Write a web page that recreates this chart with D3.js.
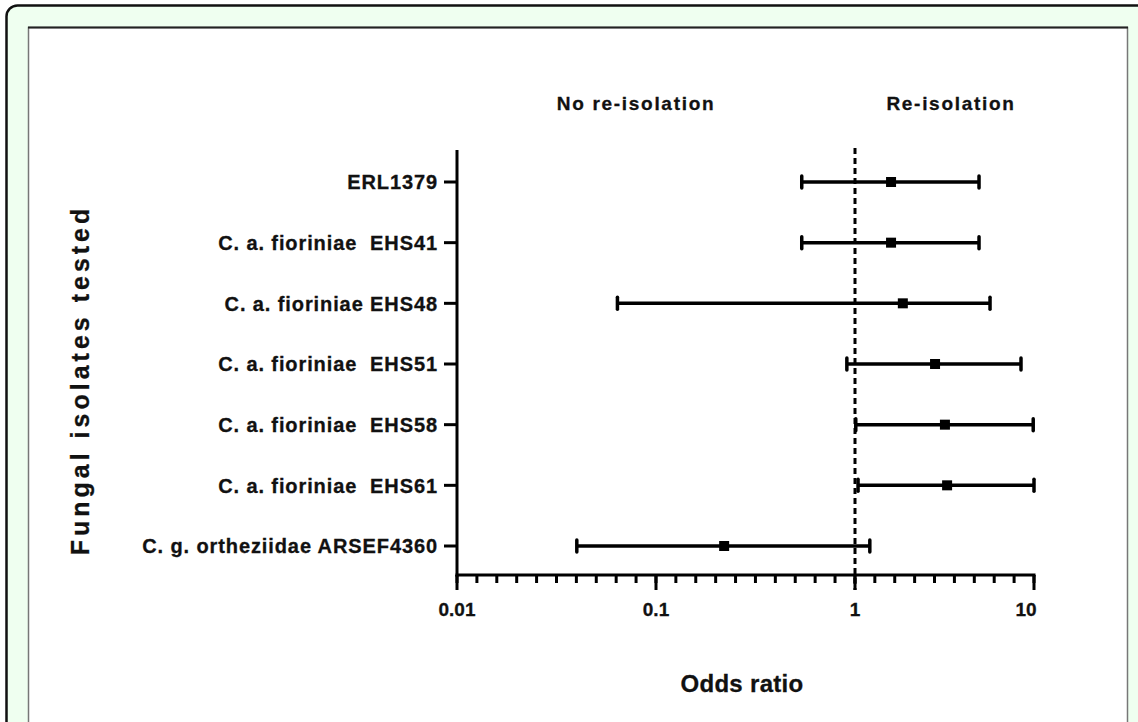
<!DOCTYPE html>
<html>
<head>
<meta charset="utf-8">
<script src="https://cdn.jsdelivr.net/npm/d3@7"></script>
<style>
  body { margin: 0; background: #fff; }
  svg text { font-family: "Liberation Sans", Arial, sans-serif; font-weight: bold; fill: #111; white-space: pre;
             stroke: #111; stroke-width: 0.3px; }
</style>
</head>
<body>
<div id="wrapper"></div>
<script>
// data
const isolates = [
  "ERL1379",
  "C. a. fioriniae  EHS41",
  "C. a. fioriniae EHS48",
  "C. a. fioriniae  EHS51",
  "C. a. fioriniae  EHS58",
  "C. a. fioriniae  EHS61",
  "C. g. ortheziidae ARSEF4360"
]
const oddsRatio = [1.59, 1.59, 1.85, 2.80, 3.18, 3.27, 0.22]
const ciLow     = [0.54, 0.54, 0.064, 0.91, 1.01, 1.04, 0.040]
const ciHigh    = [4.93, 4.93, 5.68, 8.46, 9.9, 10, 1.21]
const majorTicks = [0.01, 0.1, 1, 10]
const tickLabels = ["0.01", "0.1", "1", "10"]

const dataset = isolates.map((name, i) => ({
  name, or: oddsRatio[i], lo: ciLow[i], hi: ciHigh[i]
}))

const width = 1138
const height = 722

const svg = d3.select("#wrapper")
  .append("svg")
    .attr("width", width)
    .attr("height", height)

// frame
svg.append("rect")
  .attr("x", 6.5).attr("y", 5.5)
  .attr("width", 1160).attr("height", 760)
  .attr("rx", 11)
  .attr("fill", "#effff0")
  .attr("stroke", "#111")
  .attr("stroke-width", 2.5)
svg.append("rect")
  .attr("x", 28.5).attr("y", 27.5)
  .attr("width", 1099).attr("height", 720)
  .attr("fill", "#fff")
  .attr("stroke", "#777")
  .attr("stroke-width", 1.5)
svg.append("line")
  .attr("x1", 28).attr("x2", 1128)
  .attr("y1", 27.5).attr("y2", 27.5)
  .attr("stroke", "#222").attr("stroke-width", 2)

// scales (axis drawn with 10 evenly spaced minor steps per decade, last decade cut at 10)
const x = d3.scaleLog()
  .domain([0.01, 0.1, 1, 10])
  .range([457, 656, 855, 1034])

const y = d3.scalePoint()
  .domain(isolates)
  .range([182, 546])

const axisY = 575
const topY = 150

const bounds = svg.append("g")

// minor ticks: evenly spaced index positions
const minorIdx = d3.range(0, 30)
const idxScale = d3.scaleLinear().domain([0, 29]).range([x(0.01), x(10)])
bounds.append("g").selectAll("line")
  .data(minorIdx)
  .join("line")
    .attr("x1", d => idxScale(d)).attr("x2", d => idxScale(d))
    .attr("y1", axisY).attr("y2", axisY + 8)
    .attr("stroke", "#000").attr("stroke-width", 3)

// major ticks
bounds.append("g").selectAll("line")
  .data(majorTicks)
  .join("line")
    .attr("x1", d => x(d)).attr("x2", d => x(d))
    .attr("y1", axisY).attr("y2", axisY + 15)
    .attr("stroke", "#000").attr("stroke-width", 3)

bounds.append("g").selectAll("text")
  .data(majorTicks)
  .join("text")
    .attr("x", d => x(d) - (d === 10 ? 8 : 0))
    .attr("y", axisY + 41)
    .attr("text-anchor", "middle")
    .style("font-size", "19px")
    .text((d, i) => tickLabels[i])

// axis lines
bounds.append("line")
  .attr("x1", x(0.01) - 1.5).attr("x2", x(10) + 1.5)
  .attr("y1", axisY).attr("y2", axisY)
  .attr("stroke", "#000").attr("stroke-width", 3)
bounds.append("line")
  .attr("x1", x(0.01)).attr("x2", x(0.01))
  .attr("y1", topY).attr("y2", axisY + 1.5)
  .attr("stroke", "#000").attr("stroke-width", 3)

// category ticks + labels
const cats = bounds.append("g")
cats.selectAll("line")
  .data(isolates)
  .join("line")
    .attr("x1", x(0.01) - 13).attr("x2", x(0.01))
    .attr("y1", d => y(d)).attr("y2", d => y(d))
    .attr("stroke", "#000").attr("stroke-width", 3)
cats.selectAll("text")
  .data(isolates)
  .join("text")
    .attr("x", x(0.01) - 19)
    .attr("y", d => y(d))
    .attr("dy", "0.36em")
    .attr("text-anchor", "end")
    .style("font-size", "20px")
    .style("letter-spacing", "0.9px")
    .text(d => d)

// reference line at 1
bounds.append("line")
  .attr("x1", x(1)).attr("x2", x(1))
  .attr("y1", topY - 2).attr("y2", axisY + 15)
  .attr("stroke", "#000").attr("stroke-width", 3)
  .attr("stroke-dasharray", "6 4")

// error bars
const bars = bounds.append("g").selectAll("g")
  .data(dataset)
  .join("g")
bars.append("line")
  .attr("x1", d => x(d.lo)).attr("x2", d => x(d.hi))
  .attr("y1", d => y(d.name)).attr("y2", d => y(d.name))
  .attr("stroke", "#000").attr("stroke-width", 3.5)
bars.selectAll(".cap")
  .data(d => [{v: d.lo, n: d.name}, {v: d.hi, n: d.name}])
  .join("line")
    .attr("class", "cap")
    .attr("x1", d => x(d.v)).attr("x2", d => x(d.v))
    .attr("y1", d => y(d.n) - 6).attr("y2", d => y(d.n) + 6)
    .attr("stroke", "#000").attr("stroke-width", 3.5)
    .attr("stroke-linecap", "round")
bars.append("rect")
  .attr("x", d => x(d.or) - 5).attr("y", d => y(d.name) - 5)
  .attr("width", 10).attr("height", 10)
  .attr("fill", "#000")

// headers and titles
svg.append("text")
  .attr("x", 636).attr("y", 110)
  .attr("text-anchor", "middle")
  .style("font-size", "19px")
  .style("letter-spacing", "1.7px")
  .text("No re-isolation")
svg.append("text")
  .attr("x", 951).attr("y", 110)
  .attr("text-anchor", "middle")
  .style("font-size", "19px")
  .style("letter-spacing", "1.7px")
  .text("Re-isolation")
svg.append("text")
  .attr("x", 742).attr("y", 692)
  .attr("text-anchor", "middle")
  .style("font-size", "24px")
  .style("letter-spacing", "0.3px")
  .text("Odds ratio")
svg.append("text")
  .attr("transform", "translate(89, 380) rotate(-90)")
  .attr("text-anchor", "middle")
  .style("font-size", "25px")
  .style("letter-spacing", "4px")
  .text("Fungal isolates tested")
</script>
</body>
</html>
